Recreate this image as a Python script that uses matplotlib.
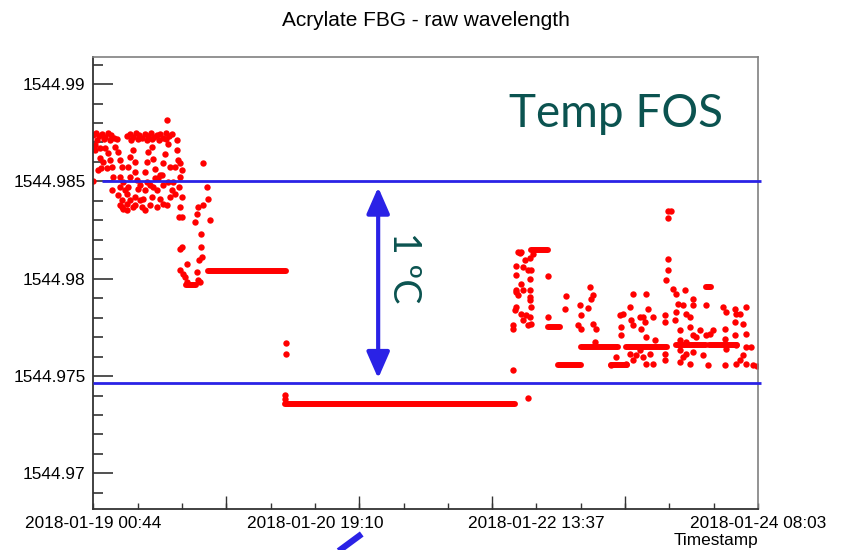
import numpy as np
import matplotlib.pyplot as plt
from matplotlib.patches import FancyArrowPatch
from matplotlib.lines import Line2D

plt.rcParams['font.family'] = ['Liberation Sans', 'DejaVu Sans']

# time axis: hours since 2018-01-19 00:44
x_max = 127.32
label_hours = [0.0, 42.44, 84.88, 127.32]
label_text = ["2018-01-19 00:44", "2018-01-20 19:10",
              "2018-01-22 13:37", "2018-01-24 08:03"]
long_tick_hours = [25.46, 50.93, 76.39, 101.86]
minor_tick_hours = [8.49, 16.98, 25.46, 33.95, 42.44, 50.93, 59.42, 67.90,
                    76.39, 84.88, 93.37, 101.86, 110.34, 118.83]

y_ticks = [1544.97, 1544.975, 1544.98, 1544.985, 1544.99]
y_labels = ["1544.97", "1544.975", "1544.98", "1544.985", "1544.99"]
y_range = (1544.96817, 1544.99139)

# first day: noisy cluster (top band + body)
early_t = [0.0, 0.52, 1.09, 1.67, 2.24, 2.81, 3.39, 3.96, 6.45, 7.03, 7.60, 8.17,
           8.75, 9.32, 9.90, 10.47, 11.05, 11.62, 12.19, 12.77, 13.34, 13.92, 14.49, 15.07,
           0.8, 2.0, 3.1, 4.5, 7.3, 8.5, 10.2, 11.3, 12.5, 14.0,
           0.33, 1.28, 2.24, 4.15, 0.33, 1.28, 1.42, 2.57, 3.52, 2.87, 3.83, 3.52,
           4.79, 5.11, 5.44, 5.11, 5.74, 5.11, 5.44, 5.11, 5.74, 6.39, 6.39, 6.70,
           7.03, 6.70, 7.03, 7.66, 7.98, 7.98, 8.31, 8.61, 7.98, 7.66, 9.26, 9.57,
           9.90, 10.22, 9.90, 10.22, 10.53, 11.18, 11.49, 11.81, 11.81, 11.49, 12.14, 12.77,
           11.18, 13.40, 13.09, 13.40, 13.73, 14.36, 14.68, 14.36, 15.01, 15.31, 15.64, 15.96,
           16.27, 15.96, 15.64, 14.68, 13.40, 12.14, 10.85, 8.94, 6.39, 5.44, 1.91, 0.96,
           3.20, 14.05, 0.0, 7.03, 7.98, 6.07, 8.94, 10.85, 12.39, 4.73, 9.90, 12.77, 14.11]
early_wl = [1544.98737, 1544.98747, 1544.98732, 1544.98742, 1544.98727, 1544.98747,
            1544.98737, 1544.98722, 1544.98732, 1544.98742, 1544.98727, 1544.98747,
            1544.98737, 1544.98722, 1544.98742, 1544.98732, 1544.98747, 1544.98727,
            1544.98737, 1544.98742, 1544.98722, 1544.98747, 1544.98732, 1544.98742,
            1544.98711, 1544.98716, 1544.98711, 1544.98716, 1544.98711, 1544.98716,
            1544.98711, 1544.98716, 1544.98711, 1544.98716,
            1544.98686, 1544.98669, 1544.98669, 1544.98677, 1544.98660, 1544.98619,
            1544.98567, 1544.98567, 1544.98574, 1544.98645, 1544.98523, 1544.98454,
            1544.98651, 1544.98609, 1544.98574, 1544.98523, 1544.98497, 1544.98471,
            1544.98403, 1544.98377, 1544.98360, 1544.98386, 1544.98437, 1544.98471,
            1544.98523, 1544.98574, 1544.98626, 1544.98660, 1544.98600, 1544.98548,
            1544.98506, 1544.98463, 1544.98420, 1544.98369, 1544.98369, 1544.98412,
            1544.98454, 1544.98497, 1544.98548, 1544.98600, 1544.98651, 1544.98677,
            1544.98617, 1544.98566, 1544.98515, 1544.98471, 1544.98454, 1544.98412,
            1544.98420, 1544.98480, 1544.98531, 1544.98592, 1544.98643, 1544.98694,
            1544.98574, 1544.98497, 1544.98454, 1544.98497, 1544.98574, 1544.98660,
            1544.98609, 1544.98711, 1544.98437, 1544.98420, 1544.98386, 1544.98369,
            1544.98377, 1544.98403, 1544.98352, 1544.98369, 1544.98600, 1544.98557,
            1544.98609, 1544.98814, 1544.98501, 1544.98403, 1544.98377, 1544.98454,
            1544.98480, 1544.98480, 1544.98516, 1544.98429, 1544.98352, 1544.98531,
            1544.98377]

# drop after the cluster and recovery column
drop_t = [16.60, 16.92, 16.60, 16.46, 16.92, 16.60, 16.46, 16.92, 16.60, 16.92,
          16.60, 17.23, 17.88, 17.55, 17.88, 19.79, 20.10, 20.43,
          19.47, 19.79, 20.10, 21.06, 22.01, 21.71, 21.06, 22.34, 20.56, 20.56,
          20.75, 20.29, 36.83, 36.83, 36.70, 36.70, 83.27, 80.40]
drop_wl = [1544.98592, 1544.98557, 1544.98523, 1544.98471, 1544.98420, 1544.98369,
           1544.98317, 1544.98317, 1544.98155, 1544.98163, 1544.98043, 1544.98026,
           1544.98078, 1544.98009, 1544.97983, 1544.98034, 1544.97992, 1544.97983,
           1544.98291, 1544.98335, 1544.98369, 1544.98377, 1544.98412, 1544.98471,
           1544.98592, 1544.98300, 1544.98232, 1544.98163, 1544.98112, 1544.98095,
           1544.97670, 1544.97615, 1544.97401, 1544.97384, 1544.97389, 1544.97533]

# last two days: jump and noisy settling
late_t = [80.40, 80.40, 80.72, 81.05, 81.05, 80.92, 81.36, 81.68, 82.01, 81.05,
          82.31, 82.64, 83.59, 83.27, 83.92, 82.01, 83.59, 81.05, 82.31, 83.59,
          81.36, 83.59, 83.59, 83.92, 82.01, 82.96, 83.59, 82.31, 83.27, 83.92,
          84.23, 87.10, 87.10, 90.62, 90.30, 95.08, 95.71, 95.41, 93.17, 93.49,
          92.84, 93.49, 94.76, 95.71, 96.36, 96.04, 100.19, 99.23, 100.83, 101.45,
          101.15, 101.15, 102.74, 103.37, 103.06, 103.37, 104.65, 105.28, 105.61, 105.93,
          106.24, 107.20, 104.98, 105.93, 107.53, 102.74, 104.02, 105.28, 105.93, 107.20,
          103.37, 104.65, 106.57, 109.44, 109.44, 102.11,
          110.07, 110.72, 110.07, 110.07, 110.07, 109.76, 109.44, 109.44,
          111.03, 111.68, 113.27, 111.99, 111.68, 112.94, 114.86, 114.86, 113.59, 114.22,
          111.35, 112.31, 114.22, 116.14, 114.86, 112.31, 113.59, 115.50, 117.42, 112.31,
          113.59, 114.86, 112.94, 114.22, 112.31, 116.77, 118.05, 118.68, 117.42, 117.72,
          120.92, 120.60, 121.25, 122.84, 123.16, 123.79, 125.08, 120.92, 122.84, 124.43,
          120.92, 122.84, 125.08, 121.25, 123.16, 125.08, 126.03, 123.79, 125.08, 123.16,
          126.34, 127.05, 124.43]
late_wl = [1544.97743, 1544.97760, 1544.97838, 1544.97855, 1544.97932, 1544.98017,
           1544.98137, 1544.98131, 1544.98137, 1544.98064, 1544.98060, 1544.98095,
           1544.98105, 1544.98043, 1544.98043, 1544.97975, 1544.97997, 1544.97940,
           1544.97940, 1544.97940, 1544.97915, 1544.97906, 1544.97889, 1544.97855,
           1544.97821, 1544.97812, 1544.97803, 1544.97786, 1544.97760, 1544.97769,
           1544.98129, 1544.98012, 1544.97803, 1544.97910, 1544.97846, 1544.97957,
           1544.97915, 1544.97898, 1544.97863, 1544.97812, 1544.97760, 1544.97743,
           1544.97851, 1544.97769, 1544.97743, 1544.97675, 1544.97598, 1544.97555,
           1544.97812, 1544.97821, 1544.97752, 1544.97709, 1544.97855, 1544.97923,
           1544.97786, 1544.97760, 1544.97803, 1544.97803, 1544.97777, 1544.97920,
           1544.97846, 1544.97803, 1544.97743, 1544.97700, 1544.97687, 1544.97615,
           1544.97606, 1544.97598, 1544.97564, 1544.97564, 1544.97581, 1544.97632,
           1544.97615, 1544.97615, 1544.97581, 1544.97564,
           1544.98348, 1544.98348, 1544.98314, 1544.98103, 1544.98043, 1544.97992,
           1544.97812, 1544.97777,
           1544.97949, 1544.97923, 1544.97940, 1544.97872, 1544.97829, 1544.97863,
           1544.97898, 1544.97863, 1544.97821, 1544.97803, 1544.97786, 1544.97735,
           1544.97752, 1544.97735, 1544.97709, 1544.97683, 1544.97675, 1544.97700,
           1544.97709, 1544.97632, 1544.97615, 1544.97623, 1544.97598, 1544.97564,
           1544.97572, 1544.97606, 1544.97718, 1544.97735, 1544.97863, 1544.97555,
           1544.97555, 1544.97855, 1544.97829, 1544.97846, 1544.97821, 1544.97817,
           1544.97855, 1544.97743, 1544.97777, 1544.97769, 1544.97692, 1544.97709,
           1544.97718, 1544.97641, 1544.97658, 1544.97649, 1544.97649, 1544.97581,
           1544.97564, 1544.97564, 1544.97555, 1544.97550, 1544.97606]

# stretches where readings sit on one value
flat_start = [17.8, 22.0, 36.7, 83.9, 87.0, 89.0, 93.5, 99.2, 102.1, 111.7, 118.0, 117.4]
flat_end = [19.7, 36.9, 80.7, 87.1, 89.3, 93.5, 100.5, 102.3, 109.8, 117.4, 123.2, 118.4]
flat_wl = [1544.97966, 1544.98038, 1544.97354, 1544.98146, 1544.97750, 1544.97557,
           1544.97649, 1544.97555, 1544.97647, 1544.97658, 1544.97658, 1544.97958]

# reference band (1 degC)
ref_wl = [1544.985, 1544.97466]
ref_start = [1.6, 0.0]
arrow_t = 54.56
arrow_top, arrow_bottom = 1544.98470, 1544.97488

red = '#ff0000'
blue = '#2a22e6'
teal = '#0b5350'

fig = plt.figure(figsize=(8.43, 5.5), dpi=100)
ax = fig.add_axes([0.1107, 0.0745, 0.7885, 0.8219])

for t, wl in [(early_t, early_wl), (drop_t, drop_wl), (late_t, late_wl)]:
    ax.plot(t, wl, 'o', ls='none', ms=4.6, color=red, mew=0, zorder=2)
flats = ax.hlines(flat_wl, flat_start, flat_end, colors=red, lw=4.3, zorder=2)
flats.set_capstyle('round')

ax.hlines(ref_wl, ref_start, x_max + 0.5, colors=blue, lw=2, zorder=3, clip_on=False)

ax.add_patch(FancyArrowPatch((arrow_t, arrow_top), (arrow_t, arrow_bottom),
                             arrowstyle='<|-|>,head_length=0.8,head_width=0.35',
                             mutation_scale=20, lw=3, color=blue,
                             shrinkA=0, shrinkB=0, zorder=4))
ax.text(59.6, 1544.98059, '1 ºC', rotation=-90, ha='center', va='center',
        fontsize=27, family=['Lato', 'DejaVu Sans'], color=teal)

ax.set_xlim(0, x_max)
ax.set_ylim(*y_range)
ax.set_yticks(y_ticks, y_labels)
ax.set_yticks(np.arange(1544.969, 1544.9915, 0.001), minor=True)
ax.set_xticks(label_hours, label_text)
ax.set_xticks(minor_tick_hours, minor=True)

ax.tick_params(axis='y', which='major', direction='in', length=14.4, width=1.2,
               pad=5.5, labelsize=12.4, colors='#333333', labelcolor='black')
ax.tick_params(axis='y', which='minor', direction='in', length=7.2, width=1.2,
               colors='#333333')
ax.tick_params(axis='x', which='both', direction='in', length=4.5, width=1.0,
               pad=5, labelsize=12.4, colors='#333333', labelcolor='black')

sec = ax.secondary_xaxis('bottom')
sec.set_xticks(long_tick_hours)
sec.tick_params(direction='in', length=9.4, width=1.0, colors='#333333', labelbottom=False)
sec.spines['bottom'].set_visible(False)

for side in ['top', 'right']:
    ax.spines[side].set_color('#808080')
    ax.spines[side].set_linewidth(1.2)
for side in ['left', 'bottom']:
    ax.spines[side].set_color('#333333')
    ax.spines[side].set_linewidth(1.3)

fig.text(0.505, 0.9636, 'Acrylate FBG - raw wavelength', ha='center', va='center',
         fontsize=15)
fig.text(0.8992, 0.0164, 'Timestamp', ha='right', va='center', fontsize=12.4)
fig.text(0.7307, 0.7927, 'Temp FOS', ha='center', va='center', fontsize=33,
         family=['Lato', 'DejaVu Sans'], color=teal)

fig.add_artist(Line2D([0.3945, 0.4291], [-0.01, 0.0291], transform=fig.transFigure,
                      color=blue, lw=4.5, solid_capstyle='butt'))

fig.savefig('out.png', dpi=100)
